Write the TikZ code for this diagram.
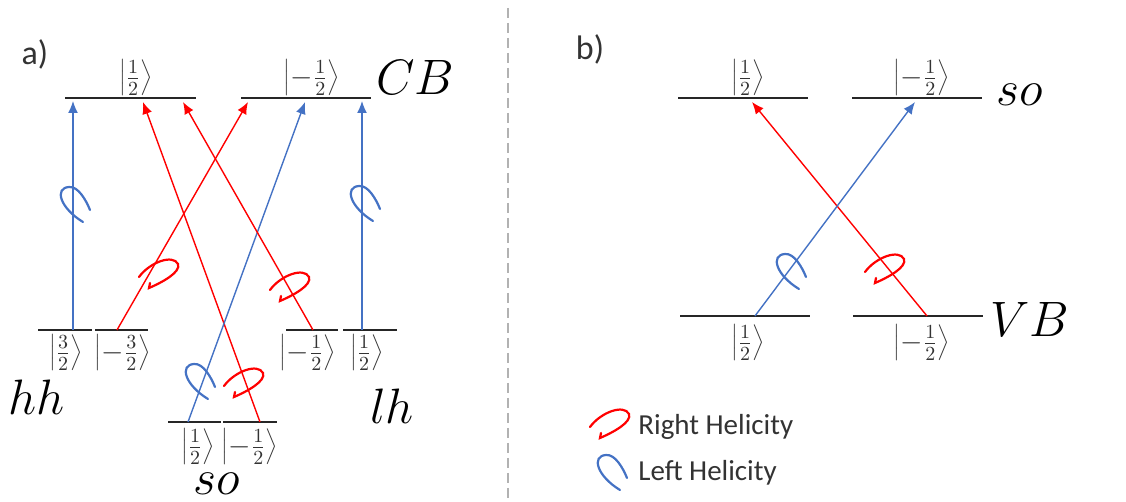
\documentclass[tikz,border=0pt]{standalone}
\usepackage{fontspec}
\newfontfamily\calibri{Carlito}
\usepackage{tikz}
\usetikzlibrary{arrows.meta}
\definecolor{lhblue}{HTML}{4472C4}
\definecolor{rhred}{HTML}{FF0000}

\begin{document}
\begin{tikzpicture}[
    x=0.5pt, y=-0.5pt,
    level_line/.style={draw=black!85, line width=0.9pt},
    ket/.style={font=\fontsize{14}{16}\selectfont, inner sep=0pt, text=black!80},
    band/.style={font=\fontsize{26}{30}\selectfont, inner sep=0pt},
    panel/.style={font=\calibri\fontsize{17}{20}\selectfont, inner sep=0pt, text=black!80},
    legend_text/.style={font=\calibri\fontsize{14.5}{17}\selectfont, anchor=west, inner sep=0pt, text=black!80},
    red_trans/.style={-{Latex[length=6pt,width=5pt]}, rhred, line width=0.7pt},
    blue_trans/.style={-{Latex[length=6pt,width=5pt]}, lhblue, line width=0.7pt},
    rcurl/.pic={\draw[rhred, line width=1.1pt, line cap=round]
        (-19,4) .. controls (-8,-11) and (15,-19) .. (20,-9)
        .. controls (23,-1) and (5,9) .. (-9,15) -- (-8,10);},
    lcurl/.pic={\draw[lhblue, line width=1.1pt, line cap=round]
        (9,18) .. controls (-14,4) and (-20,-16) .. (-5,-17)
        .. controls (4,-18) and (12,-4) .. (16,6);}
]
\useasboundingbox (0,0) rectangle (1126,502);

% PANEL LABELS & SEPARATOR
\node[panel] (tag_a) at (35,54) {a)};
\node[panel] (tag_b) at (590,49) {b)};
\coordinate (sep_top) at (508,8);
\coordinate (sep_bot) at (508,502);
\draw[gray!60, line width=0.6pt, dash pattern=on 5pt off 2.5pt] (sep_top) -- (sep_bot);

% PANEL A: CONDUCTION BAND
\coordinate (cbu_l) at (65,98);  \coordinate (cbu_r) at (196,98);
\coordinate (cbd_l) at (241,98); \coordinate (cbd_r) at (371,98);
\draw[level_line] (cbu_l) -- (cbu_r);
\draw[level_line] (cbd_l) -- (cbd_r);
\node[ket] (k_cbu) at (136,78) {$\left|\frac{1}{2}\right\rangle$};
\node[ket] (k_cbd) at (312,78) {$\left|-\frac{1}{2}\right\rangle$};
\node[band] (cb) at (415,78) {$CB$};

% PANEL A: VALENCE LEVELS
\coordinate (hh1_l) at (38,330);  \coordinate (hh1_r) at (92,330);
\coordinate (hh2_l) at (95,330);  \coordinate (hh2_r) at (148,330);
\coordinate (lh1_l) at (286,330); \coordinate (lh1_r) at (338,330);
\coordinate (lh2_l) at (343,330); \coordinate (lh2_r) at (397,330);
\coordinate (so1_l) at (168,422); \coordinate (so1_r) at (221,422);
\coordinate (so2_l) at (223,422); \coordinate (so2_r) at (277,422);
\foreach \lv in {hh1,hh2,lh1,lh2,so1,so2}
    \draw[level_line] (\lv_l) -- (\lv_r);
\node[ket] (k_hh1) at (66,353) {$\left|\frac{3}{2}\right\rangle$};
\node[ket] (k_hh2) at (123,353) {$\left|-\frac{3}{2}\right\rangle$};
\node[ket] (k_lh1) at (308,353) {$\left|-\frac{1}{2}\right\rangle$};
\node[ket] (k_lh2) at (367,353) {$\left|\frac{1}{2}\right\rangle$};
\node[ket] (k_so1) at (198,447) {$\left|\frac{1}{2}\right\rangle$};
\node[ket] (k_so2) at (250,447) {$\left|-\frac{1}{2}\right\rangle$};
\node[band] (hh) at (37,397) {$hh$};
\node[band] (lh) at (392,406) {$lh$};
\node[band] (so_a) at (217,484) {$so$};

% PANEL A: TRANSITIONS
\coordinate (a1_s) at (73,330);  \coordinate (a1_e) at (73,101);
\coordinate (a2_s) at (117,330); \coordinate (a2_e) at (248,102);
\coordinate (a3_s) at (260,422); \coordinate (a3_e) at (143,102);
\coordinate (a4_s) at (188,422); \coordinate (a4_e) at (305,102);
\coordinate (a5_s) at (313,330); \coordinate (a5_e) at (183,102);
\coordinate (a6_s) at (362,330); \coordinate (a6_e) at (362,101);
\draw[blue_trans] (a1_s) -- (a1_e);
\draw[red_trans] (a2_s) -- (a2_e);
\draw[red_trans] (a3_s) -- (a3_e);
\draw[blue_trans] (a4_s) -- (a4_e);
\draw[red_trans] (a5_s) -- (a5_e);
\draw[blue_trans] (a6_s) -- (a6_e);
\pic at (74,204) {lcurl};
\pic at (364,203) {lcurl};
\pic at (158,273) {rcurl};
\pic at (289,286) {rcurl};
\pic at (199,381) {lcurl};
\pic at (243,382) {rcurl};

% PANEL B: SPLIT-OFF AND VALENCE BAND
\coordinate (sou_l) at (678,98);  \coordinate (sou_r) at (808,98);
\coordinate (sod_l) at (852,98);  \coordinate (sod_r) at (982,98);
\coordinate (vbu_l) at (680,316); \coordinate (vbu_r) at (810,316);
\coordinate (vbd_l) at (853,316); \coordinate (vbd_r) at (983,316);
\foreach \lv in {sou,sod,vbu,vbd}
    \draw[level_line] (\lv_l) -- (\lv_r);
\node[ket] (k_sou) at (748,78) {$\left|\frac{1}{2}\right\rangle$};
\node[ket] (k_sod) at (922,78) {$\left|-\frac{1}{2}\right\rangle$};
\node[ket] (k_vbu) at (748,343) {$\left|\frac{1}{2}\right\rangle$};
\node[ket] (k_vbd) at (922,343) {$\left|-\frac{1}{2}\right\rangle$};
\node[band] (so_b) at (1020,95) {$so$};
\node[band] (vb) at (1030,320) {$VB$};

% PANEL B: TRANSITIONS
\coordinate (b1_s) at (927,316); \coordinate (b1_e) at (752,102);
\coordinate (b2_s) at (755,316); \coordinate (b2_e) at (915,102);
\draw[red_trans] (b1_s) -- (b1_e);
\draw[blue_trans] (b2_s) -- (b2_e);
\pic at (790,271) {lcurl};
\pic at (884,268) {rcurl};

% LEGEND
\pic at (609,423) {rcurl};
\pic at (611,472) {lcurl};
\node[legend_text] (leg_r) at (638,427) {Right Helicity};
\node[legend_text] (leg_l) at (638,473) {Left Helicity};

\end{tikzpicture}
\end{document}
